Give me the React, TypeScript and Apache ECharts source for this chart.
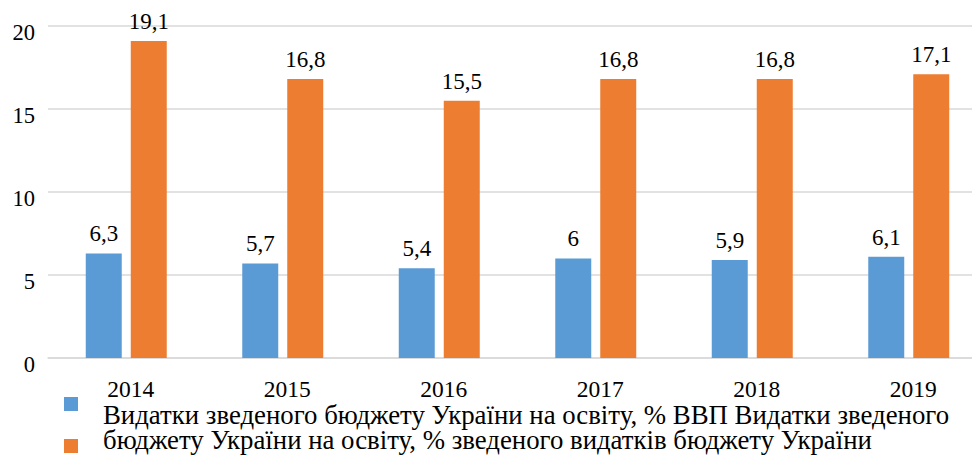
import React, { useEffect, useRef } from "react";
import * as echarts from "echarts";

const categories = ["2014", "2015", "2016", "2017", "2018", "2019"];
const gdpShare = [6.3, 5.7, 5.4, 6, 5.9, 6.1];
const budgetShare = [19.1, 16.8, 15.5, 16.8, 16.8, 17.1];
const seriesNames = [
  "Видатки зведеного бюджету України на освіту, % ВВП",
  "Видатки зведеного бюджету України на освіту, % зведеного видатків бюджету України",
];
const legendLines = [
  "Видатки зведеного бюджету України на освіту, % ВВП Видатки зведеного",
  "бюджету України на освіту, % зведеного видатків бюджету України",
];
const colors = ["#5b9bd5", "#ed7d31"];
const yTicks = { min: 0, max: 20, interval: 5 };

const FONT = "Liberation Serif";

export default function App() {
  const ref = useRef<HTMLDivElement>(null);
  useEffect(() => {
    if (!ref.current) return;
    const chart = echarts.init(ref.current, null, { renderer: "svg" });
    const label = {
      show: true,
      position: "top" as const,
      distance: 8,
      color: "#000",
      fontFamily: FONT,
      fontSize: 23,
      formatter: (p: any) => String(p.value).replace(".", ","),
    };
    chart.setOption({
      animation: false,
      textStyle: { fontFamily: FONT },
      grid: { left: 48, top: 26, width: 939, height: 332, containLabel: false },
      legend: { show: false, data: seriesNames },
      graphic: [
        { type: "rect", left: 64, top: 397, shape: { width: 14, height: 14 }, style: { fill: colors[0] } },
        { type: "rect", left: 64, top: 439, shape: { width: 14, height: 14 }, style: { fill: colors[1] } },
        {
          type: "text",
          x: 103,
          y: 415,
          style: { text: legendLines[0], font: "26.8px Liberation Serif", fill: "#000", verticalAlign: "middle" },
        },
        {
          type: "text",
          x: 103,
          y: 440,
          style: { text: legendLines[1], font: "26.8px Liberation Serif", fill: "#000", verticalAlign: "middle" },
        },
      ],
      xAxis: {
        type: "category",
        data: categories,
        axisLine: { show: true, lineStyle: { color: "#d9d9d9", width: 1.5 } },
        axisTick: { show: false },
        axisLabel: {
          fontFamily: FONT,
          fontSize: 23.5,
          color: "#000",
          margin: 19,
          formatter: "{a|{value}}",
          rich: { a: { fontFamily: FONT, fontSize: 23.5, color: "#000", padding: [0, 0, 0, 9] } },
        },
      },
      yAxis: {
        type: "value",
        min: yTicks.min,
        max: yTicks.max,
        interval: yTicks.interval,
        axisLine: { show: false },
        axisTick: { show: false },
        splitLine: { lineStyle: { color: "#d9d9d9", width: 1.5 } },
        axisLabel: {
          fontFamily: FONT,
          fontSize: 22.5,
          color: "#000",
          margin: 13,
          formatter: "{a|{value}}",
          rich: { a: { fontFamily: FONT, fontSize: 22.5, color: "#000", padding: [12, 0, 0, 0] } },
        },
      },
      series: [
        {
          name: seriesNames[0],
          type: "bar",
          data: gdpShare,
          barWidth: 36,
          barGap: "25%",
          itemStyle: { color: colors[0] },
          label,
        },
        {
          name: seriesNames[1],
          type: "bar",
          data: budgetShare,
          barWidth: 36,
          itemStyle: { color: colors[1] },
          label,
        },
      ],
    });
    return () => chart.dispose();
  }, []);
  return (
    <div
      style={{
        position: "absolute",
        left: 0,
        top: 0,
        width: 972,
        height: 459,
        overflow: "hidden",
        background: "#fff",
      }}
    >
      <div ref={ref} style={{ width: 990, height: 459 }} />
    </div>
  );
}
